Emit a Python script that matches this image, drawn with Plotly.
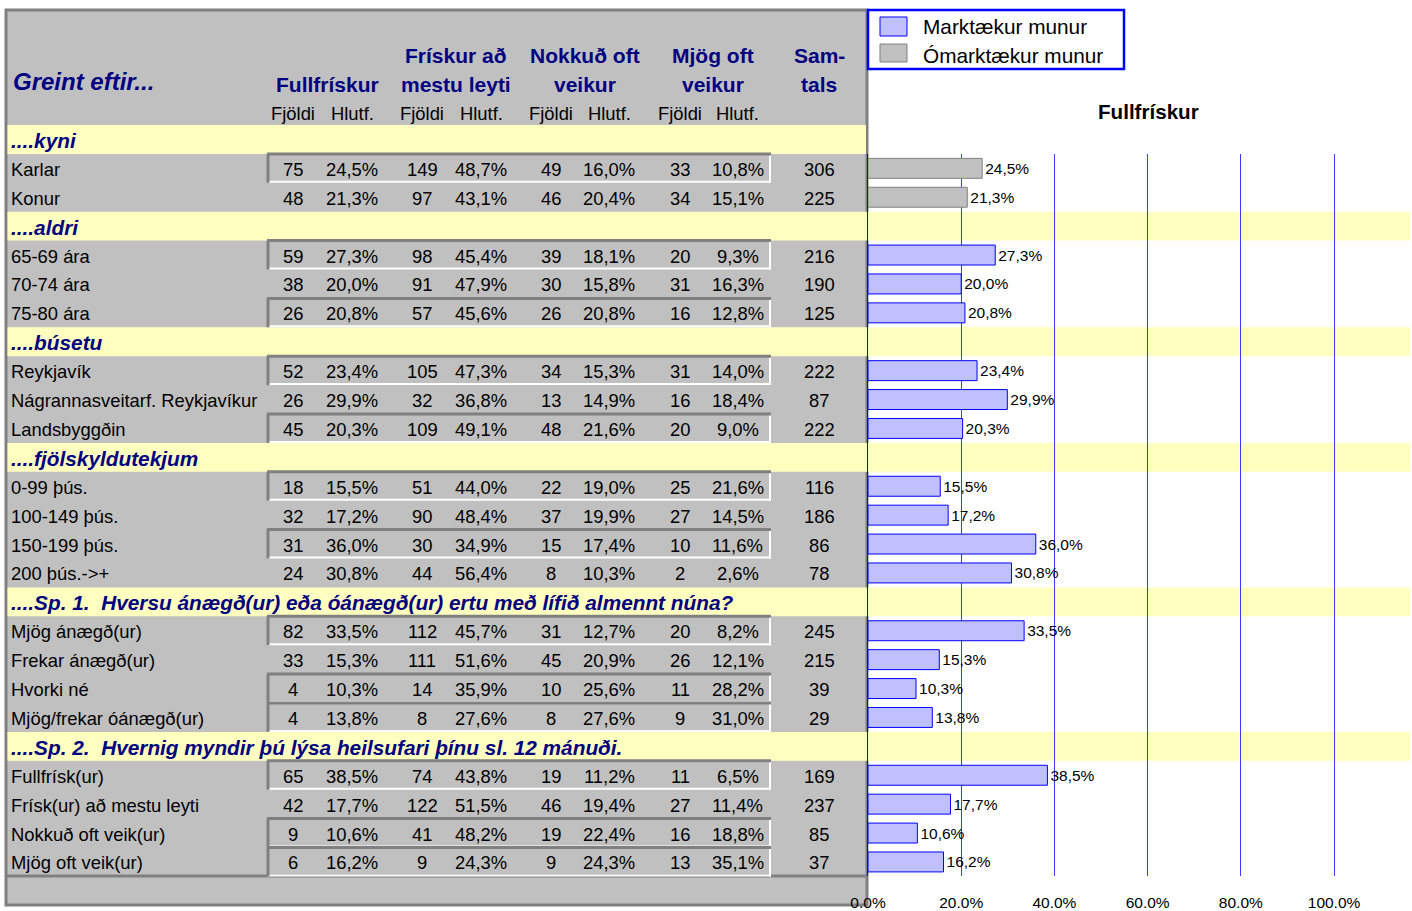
import plotly.graph_objects as go

# ---------------- data ----------------
group_titles = [
    "....kyni",
    "....aldri",
    "....búsetu",
    "....fjölskyldutekjum",
    "....Sp. 1.\u00a0 Hversu ánægð(ur) eða óánægð(ur) ertu með lífið almennt núna?",
    "....Sp. 2.\u00a0 Hvernig myndir þú lýsa heilsufari þínu sl. 12 mánuði.",
]
group_sizes = [2, 3, 3, 4, 4, 4]

labels = ["Karlar", "Konur",
          "65-69 ára", "70-74 ára", "75-80 ára",
          "Reykjavík", "Nágrannasveitarf. Reykjavíkur", "Landsbyggðin",
          "0-99 þús.", "100-149 þús.", "150-199 þús.", "200 þús.->+",
          "Mjög ánægð(ur)", "Frekar ánægð(ur)", "Hvorki né", "Mjög/frekar óánægð(ur)",
          "Fullfrísk(ur)", "Frísk(ur) að mestu leyti", "Nokkuð oft veik(ur)", "Mjög oft veik(ur)"]

fullfr_n = [75, 48, 59, 38, 26, 52, 26, 45, 18, 32, 31, 24, 82, 33, 4, 4, 65, 42, 9, 6]
fullfr_p = [24.5, 21.3, 27.3, 20.0, 20.8, 23.4, 29.9, 20.3, 15.5, 17.2, 36.0, 30.8,
            33.5, 15.3, 10.3, 13.8, 38.5, 17.7, 10.6, 16.2]
frisk_n = [149, 97, 98, 91, 57, 105, 32, 109, 51, 90, 30, 44, 112, 111, 14, 8, 74, 122, 41, 9]
frisk_p = [48.7, 43.1, 45.4, 47.9, 45.6, 47.3, 36.8, 49.1, 44.0, 48.4, 34.9, 56.4,
           45.7, 51.6, 35.9, 27.6, 43.8, 51.5, 48.2, 24.3]
nokk_n = [49, 46, 39, 30, 26, 34, 13, 48, 22, 37, 15, 8, 31, 45, 10, 8, 19, 46, 19, 9]
nokk_p = [16.0, 20.4, 18.1, 15.8, 20.8, 15.3, 14.9, 21.6, 19.0, 19.9, 17.4, 10.3,
          12.7, 20.9, 25.6, 27.6, 11.2, 19.4, 22.4, 24.3]
mjog_n = [33, 34, 20, 31, 16, 31, 16, 20, 25, 27, 10, 2, 20, 26, 11, 9, 11, 27, 16, 13]
mjog_p = [10.8, 15.1, 9.3, 16.3, 12.8, 14.0, 18.4, 9.0, 21.6, 14.5, 11.6, 2.6,
          8.2, 12.1, 28.2, 31.0, 6.5, 11.4, 18.8, 35.1]
samtals = [306, 225, 216, 190, 125, 222, 87, 222, 116, 186, 86, 78,
           245, 215, 39, 29, 169, 237, 85, 37]
significant = [False, False] + [True] * 18
boxed = [1, 0, 1, 0, 1, 1, 0, 1, 1, 0, 1, 0, 1, 0, 1, 1, 1, 0, 1, 1]

col_titles = [("", "Fullfrískur"), ("Frískur að", "mestu leyti"),
              ("Nokkuð oft", "veikur"), ("Mjög oft", "veikur"), ("Sam-", "tals")]
sub_titles = ["Fjöldi", "Hlutf."]
chart_title = "Fullfrískur"
legend_names = ["Marktækur munur", "Ómarktækur munur"]
x_ticks = [0, 0.2, 0.4, 0.6, 0.8, 1.0]

# ---------------- geometry / style ----------------
W, H = 1412, 911
FONT = "Liberation Sans, Arial, sans-serif"
NAVY = "#000080"
GREY = "#C0C0C0"
DARK = "#808080"
YELLOW = "#FFFFC0"
BLUE = "#0000FF"
LBLUE = "#C0C0FF"
ROW0, RH = 125.0, 28.9
DATA_SIZE = 18.4


def px(x):
    return x / W


def py(y):
    return 1 - y / H


def fmt_pct(v):
    return f"{v:.1f}".replace(".", ",") + "%"


# row index of each data line and of each group header
header_rows, data_rows = [], []
r = 0
for g in group_sizes:
    header_rows.append(r)
    r += 1
    for _ in range(g):
        data_rows.append(r)
        r += 1
n_rows = r

shapes, ann = [], []


def rect(x0, y0, x1, y1, fill, line=None, lw=0, layer="below"):
    shapes.append(dict(type="rect", xref="paper", yref="paper",
                       x0=px(x0), x1=px(x1), y0=py(y1), y1=py(y0),
                       fillcolor=fill, line=dict(color=line or fill, width=lw),
                       layer=layer))


def line(x0, y0, x1, y1, color, lw, layer="below"):
    shapes.append(dict(type="line", xref="paper", yref="paper",
                       x0=px(x0), x1=px(x1), y0=py(y0), y1=py(y1),
                       line=dict(color=color, width=lw), layer=layer))


def text(x, y, s, size=DATA_SIZE, color="black", xanchor="center", bold=False, italic=False):
    if italic:
        s = f"<i>{s}</i>"
    if bold:
        s = f"<b>{s}</b>"
    ann.append(dict(x=px(x), y=py(y), xref="paper", yref="paper", text=s,
                    showarrow=False, xanchor=xanchor, yanchor="middle",
                    font=dict(family=FONT, size=size, color=color)))


# table background & border
rect(6, 10, 867, 905, GREY, DARK, 3)

# yellow group rows in table + chart bands
for gi, hr in enumerate(header_rows):
    t = ROW0 + hr * RH
    rect(7.5, t, 866, t + RH, YELLOW)
    text(9, t + RH / 2 + 1, group_titles[gi], size=20.8, color=NAVY,
         xanchor="left", bold=True, italic=True)
    if hr > 0:
        shapes.append(dict(type="rect", xref="paper", yref="y",
                           x0=px(866), x1=px(1410), y0=hr - 0.5, y1=hr + 0.5,
                           fillcolor=YELLOW, line=dict(width=0), layer="below"))

# bottom inner line of table
line(6, 876, 867, 876, DARK, 3)

# sunken boxes
for i, rr in enumerate(data_rows):
    if boxed[i]:
        t = ROW0 + rr * RH
        b = t + RH
        line(267, b - 1, 771, b - 1, "white", 2)
        line(770, t, 770, b, "white", 2)
        line(267, t, 771, t, DARK, 3)
        line(268, t, 268, b, DARK, 3)

# header texts
text(11, 82, "Greint eftir...", size=24, color=NAVY, xanchor="left", bold=True, italic=True)
col_centers = [327, 456, 585, 713, 819]
for (l1, l2), cx in zip(col_titles, col_centers):
    if l1:
        text(cx, 56, l1, size=21, color=NAVY, bold=True)
    text(cx, 84, l2, size=21, color=NAVY, bold=True)

n_centers = [293, 422, 551, 680]
p_centers = [352, 481, 609, 738]
for cx in n_centers:
    text(cx, 113, sub_titles[0])
for cx in p_centers:
    text(cx, 113, sub_titles[1])

# table body
cols_n = [fullfr_n, frisk_n, nokk_n, mjog_n]
cols_p = [fullfr_p, frisk_p, nokk_p, mjog_p]
for i, rr in enumerate(data_rows):
    yc = ROW0 + rr * RH + RH / 2 + 1
    text(9, yc, labels[i], xanchor="left")
    for k in range(4):
        text(n_centers[k], yc, str(cols_n[k][i]))
        text(p_centers[k], yc, fmt_pct(cols_p[k][i]))
    text(819, yc, str(samtals[i]))

# legend
rect(868, 10, 1124, 69, "white", BLUE, 2.5, layer="above")
rect(880, 17, 907, 36, LBLUE, BLUE, 1, layer="above")
rect(880, 44, 907, 62, GREY, DARK, 1, layer="above")
text(921, 27, legend_names[0], size=20.8, xanchor="left")
text(921, 55, legend_names[1], size=20.8, xanchor="left")

# chart title
text(1148, 112, chart_title, size=20.6, bold=True)

# ---------------- bars ----------------
fig = go.Figure()
for sig, fill, edge, name in [(True, LBLUE, BLUE, legend_names[0]),
                              (False, GREY, DARK, legend_names[1])]:
    ys = [data_rows[i] for i in range(len(labels)) if significant[i] == sig]
    xs = [fullfr_p[i] / 100 for i in range(len(labels)) if significant[i] == sig]
    tx = [fmt_pct(fullfr_p[i]) for i in range(len(labels)) if significant[i] == sig]
    fig.add_trace(go.Bar(
        x=xs, y=ys, orientation="h", width=0.69, name=name,
        marker=dict(color=fill, line=dict(color=edge, width=1)),
        text=tx, textposition="outside", cliponaxis=False,
        textfont=dict(family=FONT, size=15.5, color="black"),
        showlegend=False, hoverinfo="skip"))

fig.update_layout(
    template="none",
    width=W, height=H, autosize=False,
    margin=dict(l=0, r=0, t=0, b=0, pad=0),
    paper_bgcolor="white", plot_bgcolor="rgba(0,0,0,0)",
    barmode="overlay", showlegend=False,
    shapes=shapes, annotations=ann,
    xaxis=dict(domain=[px(868), px(1410)], range=[0, 1.163],
               tickvals=x_ticks, tickformat=".1%", automargin=False,
               showgrid=True, gridcolor="#3B3BFF", gridwidth=1,
               zeroline=False, showline=False, ticks="",
               ticklabelstandoff=15,
               tickfont=dict(family=FONT, size=15.5, color="black")),
    yaxis=dict(domain=[py(876.4), py(ROW0 + RH)], automargin=False,
               range=[n_rows - 0.5, 0.5],
               showgrid=False, zeroline=False, showticklabels=False,
               showline=True, linecolor=BLUE, linewidth=1, ticks=""),
)

fig.write_html("out.html",
               config={"displayModeBar": False},
               post_script="document.body.style.margin='0px';"
                           "document.body.style.overflow='hidden';")
